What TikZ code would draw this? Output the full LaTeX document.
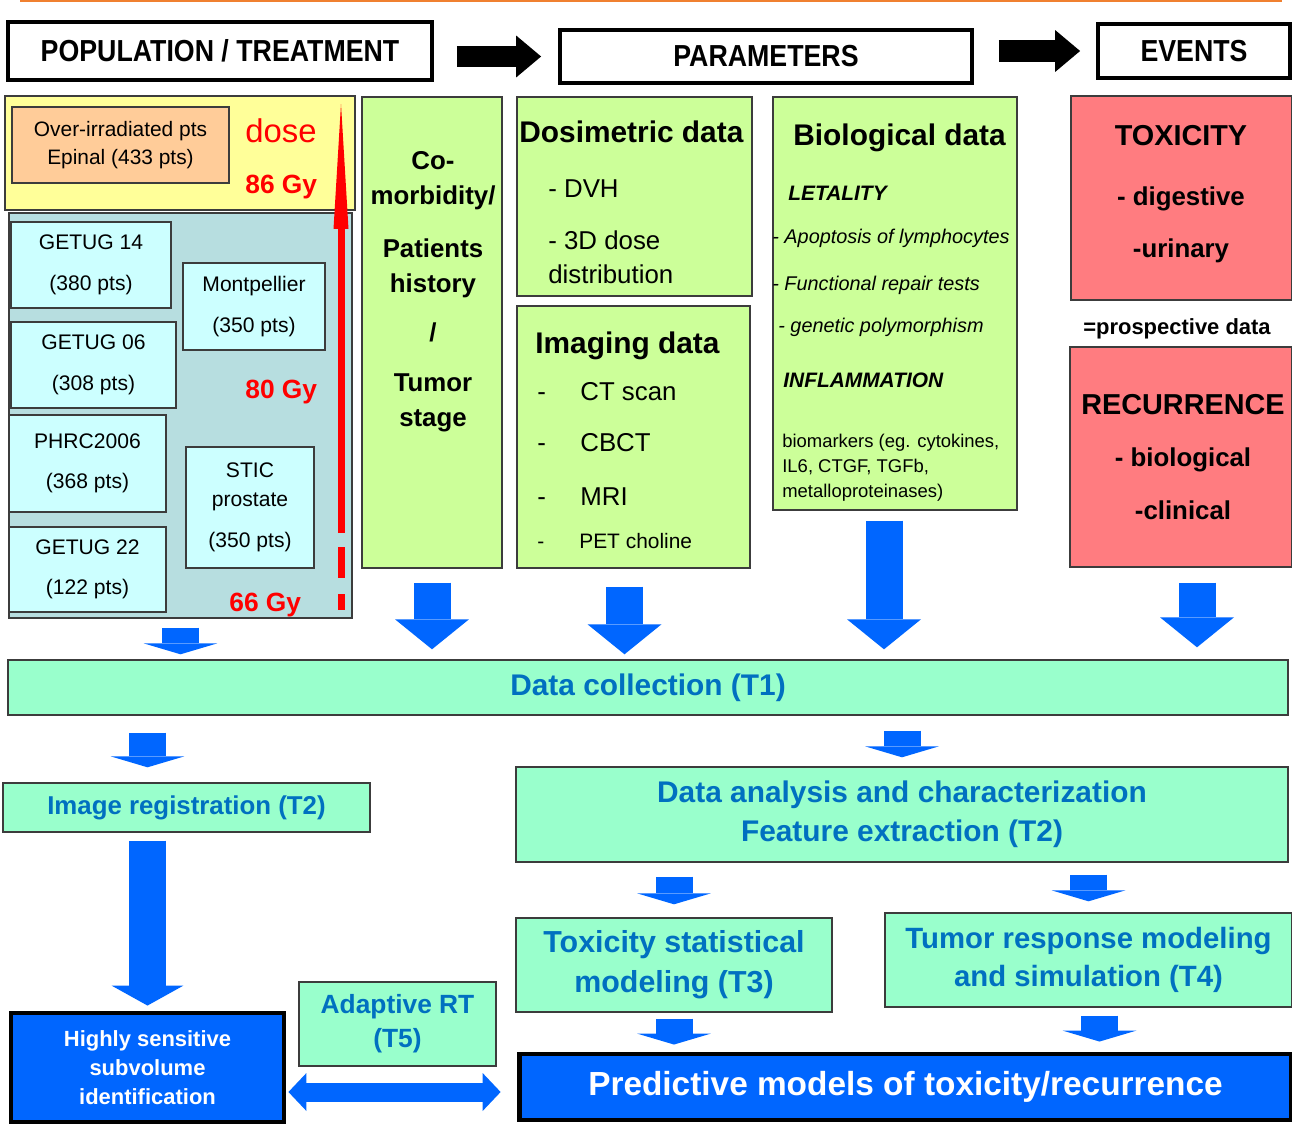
\documentclass[tikz,border=0pt]{standalone}
\usepackage{fontspec}
\setmainfont{Liberation Sans}
\newfontfamily\hdrfont[FakeStretch=0.88]{Liberation Sans}
\usepackage{tikz}
\usetikzlibrary{arrows.meta}
\definecolor{lineorange}{RGB}{240,128,48}
\definecolor{doseyellow}{RGB}{255,255,153}
\definecolor{epinalorange}{RGB}{255,204,153}
\definecolor{cohortbg}{RGB}{183,222,224}
\definecolor{cohortcyan}{RGB}{204,255,255}
\definecolor{paramgreen}{RGB}{204,255,153}
\definecolor{eventred}{RGB}{255,124,128}
\definecolor{taskmint}{RGB}{153,255,204}
\definecolor{taskblue}{RGB}{0,112,192}
\definecolor{flowblue}{RGB}{0,102,255}
\definecolor{edgegray}{RGB}{60,60,60}
\newcommand{\fsz}[2]{\fontsize{#1}{#2}\selectfont}
\tikzset{
    hdr/.style={rectangle, draw=black, line width=2.2pt, fill=white, font=\hdrfont\fsz{17.3}{20}\bfseries},
    hdrarrow/.style={draw=black, line width=0.44cm, -{Triangle[length=0.5cm, width=0.84cm, line width=0pt]}},
    box/.style={rectangle, draw=edgegray, line width=0.8pt},
    cohort/.style={box, fill=cohortcyan, align=center, font=\fsz{12}{23}},
    doselabel/.style={anchor=base west, inner sep=0pt, text=red, font=\fsz{15}{18}\bfseries},
    dosearrow/.style={draw=red, line width=0.14cm, -{Triangle[length=2.5cm, width=0.3cm, line width=0pt]}},
    param/.style={box, fill=paramgreen},
    ptitle/.style={anchor=base west, inner sep=0pt, font=\fsz{17}{20}\bfseries},
    pitem/.style={anchor=base west, inner sep=0pt, font=\fsz{14.7}{18}},
    bitem/.style={anchor=base west, inner sep=0pt, font=\fsz{11.3}{14}\itshape},
    event/.style={box, fill=eventred},
    etitle/.style={anchor=base, inner sep=0pt, font=\fsz{16.4}{20}\bfseries},
    eitem/.style={anchor=base, inner sep=0pt, font=\fsz{14.7}{18}\bfseries},
    task/.style={box, fill=taskmint, align=center, text=taskblue},
    result/.style={rectangle, draw=black, line width=2.8pt, fill=flowblue, text=white, align=center},
    flow/.style={draw=flowblue, line width=0.74cm, -{Triangle[length=0.22cm, width=1.48cm, line width=0pt]}},
    flowbig/.style={flow, -{Triangle[length=0.6cm, width=1.48cm, line width=0pt]}},
    flowlong/.style={flow, -{Triangle[length=0.4cm, width=1.44cm, line width=0pt]}},
    twoway/.style={draw=flowblue, line width=0.38cm, {Triangle[length=0.36cm, width=0.76cm, line width=0pt]}-{Triangle[length=0.36cm, width=0.76cm, line width=0pt]}}
}

\begin{document}
\begin{tikzpicture}[x=0.02cm, y=-0.02cm]
    \useasboundingbox (0,0) rectangle (1292,1129);
    \draw[draw=lineorange, line width=1.5pt] (20,1) -- (1282,1);

    % Headers
    \node[hdr, minimum width=8.48cm, minimum height=1.16cm] (pop) at (220,51) {POPULATION / TREATMENT};
    \node[hdr, minimum width=8.24cm, minimum height=1.06cm] (par) at (766,56.5) {PARAMETERS};
    \node[hdr, minimum width=3.84cm, minimum height=1.08cm] (evt) at (1194,51) {EVENTS};
    \draw[hdrarrow, shorten <=0.46cm, shorten >=0.34cm] (pop.east |- par.west) -- (par.west);
    \draw[hdrarrow, shorten <=0.5cm, shorten >=0.32cm] (par.east |- evt.west) -- (evt.west);

    % Population / treatment
    \node[box, fill=doseyellow, minimum width=7cm, minimum height=2.28cm] (over) at (180,153) {};
    \node[box, fill=epinalorange, minimum width=4.34cm, minimum height=1.52cm, align=center, font=\fsz{11.9}{16.4}] (epinal) at (120.5,145) {Over-irradiated pts\\Epinal (433 pts)};
    \node[box, fill=cohortbg, minimum width=6.86cm, minimum height=8.1cm] (cohorts) at (180.5,415.5) {};
    \node[cohort, minimum width=3.2cm, minimum height=1.72cm] (getug14) at (91,265) {GETUG 14\\(380 pts)};
    \node[cohort, minimum width=2.84cm, minimum height=1.74cm] (montp) at (254,306.5) {Montpellier\\(350 pts)};
    \node[cohort, minimum width=3.3cm, minimum height=1.72cm] (getug06) at (93.5,365) {GETUG 06\\(308 pts)};
    \node[cohort, minimum width=3.14cm, minimum height=1.94cm] (phrc) at (87.5,463.5) {PHRC2006\\(368 pts)};
    \node[cohort, minimum width=2.56cm, minimum height=2.42cm, font=\fsz{12}{16.4}] (stic) at (250,507.5) {STIC\\prostate\\[6.8pt](350 pts)};
    \node[cohort, minimum width=3.14cm, minimum height=1.7cm] (getug22) at (87.5,569.5) {GETUG 22\\(122 pts)};
    \node[doselabel, font=\fsz{18.7}{20}] (dose) at (245,142) {dose};
    \node[doselabel] (gy86) at (245,193) {86 Gy};
    \node[doselabel] (gy80) at (245,398) {80 Gy};
    \node[doselabel] (gy66) at (229,611) {66 Gy};
    \coordinate (dosebot) at (341,533);
    \coordinate (dosetop) at (341,104);
    \draw[dosearrow] (dosebot) -- (dosetop);
    \fill[red] (337.5,547) rectangle (344.5,578);
    \fill[red] (337.5,594) rectangle (344.5,610);

    % Parameters
    \node[param, minimum width=2.8cm, minimum height=9.42cm] (como) at (432,332.5) {};
    \node[anchor=north, align=center, inner sep=0pt, font=\fsz{14.7}{19.8}\bfseries] (comotxt) at (433,151) {Co-\\morbidity/\\[10.5pt]Patients\\history\\[8.5pt]/\\[8.5pt]Tumor\\stage};
    \node[param, minimum width=4.7cm, minimum height=3.98cm] (dosim) at (634.5,196.5) {};
    \node[ptitle] (dosimtit) at (519,142) {Dosimetric data};
    \node[pitem] (dvh) at (548,197) {- DVH};
    \node[pitem] (dose3d) at (548,249) {- 3D dose};
    \node[pitem] (dosedist) at (548,283) {distribution};
    \node[param, minimum width=4.66cm, minimum height=5.24cm] (imag) at (633.5,437) {};
    \node[ptitle] (imagtit) at (535,353) {Imaging data};
    \foreach \y/\t in {400/CT scan, 451/CBCT, 505/MRI} {
        \node[pitem] (imgdash\y) at (537,\y) {-};
        \node[pitem] (img\y) at (580,\y) {\t};
    }
    \node[pitem, font=\fsz{11.9}{14}] (imgdash548) at (537,548) {-};
    \node[pitem, font=\fsz{11.9}{14}] (img548) at (579,548) {PET choline};
    \node[param, minimum width=4.88cm, minimum height=8.26cm] (bio) at (895,303.5) {};
    \node[ptitle] (biotit) at (793,145) {Biological data};
    \node[pitem, font=\fsz{11.9}{14}\bfseries\itshape] (letal) at (788,200) {LETALITY};
    \node[bitem] (apop) at (772,243) {- Apoptosis of lymphocytes};
    \node[bitem] (repair) at (772,290) {- Functional repair tests};
    \node[bitem] (poly) at (778,332) {- genetic polymorphism};
    \node[pitem, font=\fsz{11.9}{14}\bfseries\itshape] (infl) at (783,387) {INFLAMMATION};
    \node[anchor=north west, align=left, inner sep=0pt, font=\fsz{10.5}{14.2}] (biomark) at (782,434) {biomarkers (eg. cytokines,\\IL6, CTGF, TGFb,\\metalloproteinases)};

    % Events
    \node[event, minimum width=4.42cm, minimum height=4.08cm] (tox) at (1181.5,198) {};
    \node[etitle] (toxtit) at (1181,145) {TOXICITY};
    \node[eitem] (digest) at (1181,205) {- digestive};
    \node[eitem] (urin) at (1181,257) {-urinary};
    \node[anchor=base, inner sep=0pt, font=\fsz{12.5}{14}\bfseries] (prosp) at (1177,334) {=prospective data};
    \node[event, minimum width=4.44cm, minimum height=4.4cm] (recur) at (1181,457) {};
    \node[etitle] (recurtit) at (1183,414) {RECURRENCE};
    \node[eitem] (biolog) at (1183,466) {- biological};
    \node[eitem] (clin) at (1183,519) {-clinical};

    % Tasks
    \node[task, minimum width=25.6cm, minimum height=1.1cm, font=\fsz{17}{20}\bfseries] (coll) at (648,687.5) {Data collection (T1)};
    \node[task, minimum width=7.34cm, minimum height=0.98cm, font=\fsz{14.7}{18}\bfseries] (reg) at (186.5,807.5) {Image registration (T2)};
    \node[task, minimum width=15.44cm, minimum height=1.9cm, font=\fsz{17}{22}\bfseries] (ana) at (902,814.5) {Data analysis and characterization\\Feature extraction (T2)};
    \node[task, minimum width=6.32cm, minimum height=1.88cm, font=\fsz{17.3}{22.7}\bfseries] (toxmod) at (674,965) {Toxicity statistical\\modeling (T3)};
    \node[task, minimum width=8.14cm, minimum height=1.88cm, font=\fsz{16.7}{22}\bfseries] (tummod) at (1088.5,960) {Tumor response modeling\\and simulation (T4)};
    \node[task, minimum width=3.94cm, minimum height=1.68cm, font=\fsz{15}{19.3}\bfseries] (adapt) at (397.5,1024) {Adaptive RT\\(T5)};
    \node[result, minimum width=15.46cm, minimum height=1.32cm, font=\fsz{19}{22}\bfseries] (pred) at (905.5,1087) {Predictive models of toxicity/recurrence};
    \node[result, minimum width=5.46cm, minimum height=2.18cm, font=\fsz{12.5}{16.4}\bfseries] (subvol) at (147.5,1067.5) {Highly sensitive\\subvolume\\identification};

    % Flow arrows
    \coordinate (imgarr) at ([xshift=-0.18cm]imag.south);
    \coordinate (bioarr) at ([xshift=-0.22cm]bio.south);
    \coordinate (evtarr) at ([xshift=0.32cm]recur.south);
    \coordinate (tumarr) at ([xshift=0.22cm]tummod.south);
    \coordinate (link) at ([yshift=-0.1cm]pred.west);
    \draw[flow, shorten <=0.18cm, shorten >=0.1cm] (cohorts.south) -- (cohorts.south |- coll.north);
    \draw[flowbig, shorten <=0.28cm, shorten >=0.2cm] (como.south) -- (como.south |- coll.north);
    \draw[flowbig, shorten <=0.36cm, shorten >=0.1cm] (imgarr) -- (imgarr |- coll.north);
    \draw[flowbig, shorten <=0.2cm, shorten >=0.2cm] (bioarr) -- (bioarr |- coll.north);
    \draw[flowbig, shorten <=0.3cm, shorten >=0.24cm] (evtarr) -- (evtarr |- coll.north);
    \draw[flow, shorten <=0.34cm, shorten >=0.3cm] (coll.south -| subvol.north) -- (reg.north -| subvol.north);
    \draw[flowlong, shorten <=0.16cm, shorten >=0.1cm] (reg.south -| subvol.north) -- (subvol.north);
    \draw[flow, shorten <=0.3cm, shorten >=0.18cm] (coll.south -| ana.north) -- (ana.north);
    \draw[flow, shorten <=0.28cm, shorten >=0.26cm] (ana.south -| toxmod.north) -- (toxmod.north);
    \draw[flow, shorten <=0.24cm, shorten >=0.22cm] (ana.south -| tummod.north) -- (tummod.north);
    \draw[flow, shorten <=0.12cm, shorten >=0.14cm] (toxmod.south) -- (toxmod.south |- pred.north);
    \draw[flow, shorten <=0.16cm, shorten >=0.2cm] (tumarr) -- (tumarr |- pred.north);
    \draw[twoway, shorten <=0.04cm, shorten >=0.32cm] (subvol.east |- link) -- (link);

\end{tikzpicture}
\end{document}
